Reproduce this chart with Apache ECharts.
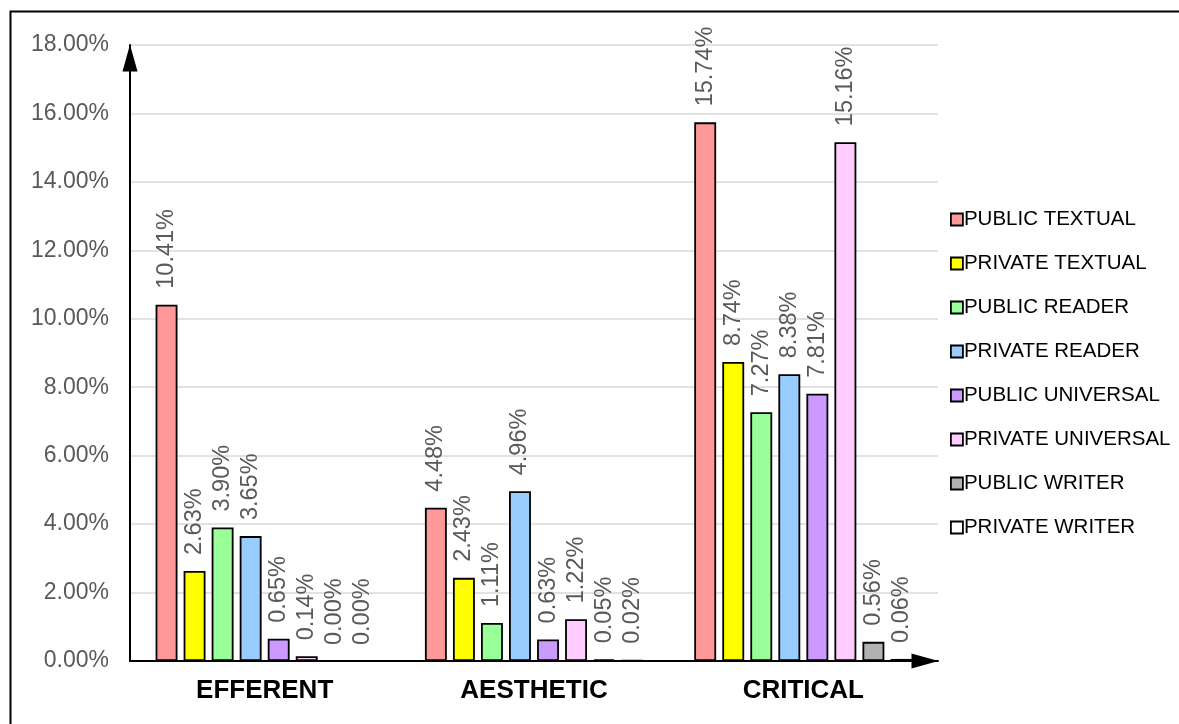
<!DOCTYPE html>
<html>
<head>
<meta charset="utf-8">
<script src="https://cdn.jsdelivr.net/npm/echarts@6/dist/echarts.min.js"></script>
<style>
html,body{margin:0;padding:0;background:#fff;}
#chart{width:1179px;height:724px;}
</style>
</head>
<body>
<div id="chart"></div>
<script>
const categories = ['EFFERENT', 'AESTHETIC', 'CRITICAL'];
const seriesNames = ['PUBLIC TEXTUAL', 'PRIVATE TEXTUAL', 'PUBLIC READER', 'PRIVATE READER',
  'PUBLIC UNIVERSAL', 'PRIVATE UNIVERSAL', 'PUBLIC WRITER', 'PRIVATE WRITER'];
const publicTextual = [10.41, 4.48, 15.74];
const privateTextual = [2.63, 2.43, 8.74];
const publicReader = [3.90, 1.11, 7.27];
const privateReader = [3.65, 4.96, 8.38];
const publicUniversal = [0.65, 0.63, 7.81];
const privateUniversal = [0.14, 1.22, 15.16];
const publicWriter = [0.00, 0.05, 0.56];
const privateWriter = [0.00, 0.02, 0.06];
const yTicks = [0, 2, 4, 6, 8, 10, 12, 14, 16, 18];

const seriesValues = [publicTextual, privateTextual, publicReader, privateReader,
  publicUniversal, privateUniversal, publicWriter, privateWriter];
const colors = ['#FF9999', '#FFFF00', '#99FF99', '#99CCFF', '#CC99FF', '#FFCCFF', '#B2B2B2', '#FFFFFF'];
const FONT = 'Liberation Sans, Arial, sans-serif';

const chart = echarts.init(document.getElementById('chart'));
const series = seriesNames.map((name, i) => ({
  name: name,
  type: 'bar',
  barGap: '28%',
  barCategoryGap: '19%',
  itemStyle: { color: colors[i], borderColor: '#000', borderWidth: 1.8 },
  label: {
    show: true, position: 'top', rotate: 90, distance: 16,
    align: 'left', verticalAlign: 'middle',
    color: '#595959', fontSize: 23.5, fontFamily: FONT,
    formatter: p => p.value.toFixed(2) + '%'
  },
  data: seriesValues[i].map(v => v === 0 ? { value: v, itemStyle: { borderWidth: 0 } } : v)
}));

chart.setOption({
  animation: false,
  backgroundColor: '#fff',
  textStyle: { fontFamily: FONT },
  grid: { left: 130, right: 241, top: 45, bottom: 63 },
  legend: {
    orient: 'vertical', left: 945, top: 204,
    itemWidth: 12, itemHeight: 12, itemGap: 23,
    icon: 'rect',
    itemStyle: { borderColor: '#000', borderWidth: 1.8 },
    textStyle: { color: '#000', fontSize: 20.5, fontFamily: FONT, padding: [0, 0, 0, -4] },
    data: seriesNames
  },
  xAxis: {
    type: 'category', data: categories,
    axisLine: { lineStyle: { color: '#000', width: 2 }, symbol: ['none', 'triangle'], symbolSize: [15, 27], symbolOffset: [0, -13] },
    axisTick: { show: false },
    axisLabel: { color: '#000', fontWeight: 'bold', fontSize: 26, margin: 17, fontFamily: FONT }
  },
  yAxis: {
    type: 'value', min: yTicks[0], max: yTicks[yTicks.length - 1], interval: 2,
    axisLine: { show: true, lineStyle: { color: '#000', width: 2 }, symbol: ['none', 'triangle'], symbolSize: [15, 27], symbolOffset: [0, -13] },
    axisTick: { show: false },
    splitLine: { lineStyle: { color: '#D9D9D9', width: 1.5 } },
    axisLabel: { color: '#595959', fontSize: 23, margin: 21, formatter: v => v.toFixed(2) + '%', fontFamily: FONT }
  },
  graphic: [{
    type: 'polyline', silent: true, z: 100,
    shape: { points: [[10.5, 724], [10.5, 11.5], [1179, 11.5]] },
    style: { stroke: '#000', lineWidth: 2, fill: null }
  }],
  series: series
});
</script>
</body>
</html>
